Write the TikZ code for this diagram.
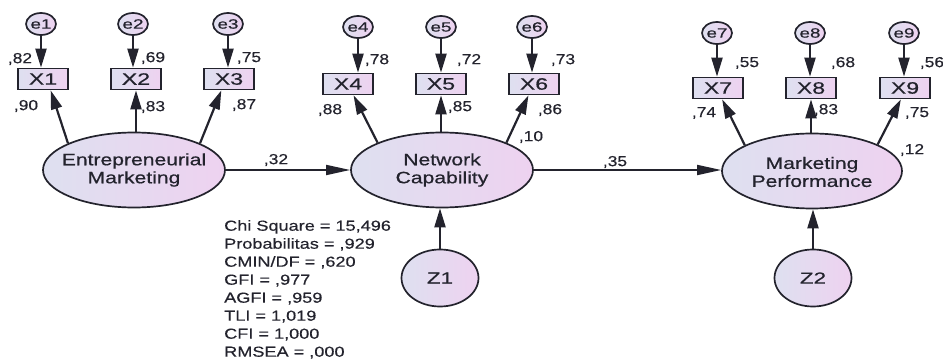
\documentclass[tikz,border=0pt]{standalone}
\usepackage{fontspec}
\setmainfont{Liberation Sans}
\newfontfamily\bigsf[FakeStretch=1.28,FakeBold=0.6]{Liberation Sans}
\newfontfamily\boxsf[FakeStretch=1.4,FakeBold=0.6]{Liberation Sans}
\newfontfamily\lblsf[FakeStretch=1.2,FakeBold=0.4]{Liberation Sans}
\newfontfamily\statsf[FakeStretch=1.25,FakeBold=0.4]{Liberation Sans}
\usetikzlibrary{shapes.geometric,arrows.meta}
\definecolor{shA}{RGB}{222,224,240}
\definecolor{shB}{RGB}{238,210,240}
\definecolor{ink}{RGB}{35,35,45}
\tikzset{
 sh/.style={left color=shA,right color=shB,draw=ink,line width=1.7pt},
 latent/.style={sh,ellipse,minimum width=182pt,minimum height=75pt,inner sep=0pt},
 errc/.style={sh,ellipse,minimum width=30pt,minimum height=22pt,inner sep=0pt,font=\boxsf\fontsize{13.5}{13.5}\selectfont,text=ink},
 dist/.style={sh,ellipse,minimum width=77pt,minimum height=57pt,inner sep=0pt,font=\boxsf\fontsize{16}{16}\selectfont,text=ink},
 obs/.style={sh,rectangle,minimum width=50pt,minimum height=21pt,inner sep=0pt,font=\boxsf\fontsize{16.5}{16.5}\selectfont,text=ink},
 ltext/.style={align=center,font=\bigsf\fontsize{16.5}{18}\selectfont,text=ink,inner sep=0pt},
 val/.style={font=\lblsf\fontsize{14.5}{14.5}\selectfont,text=ink,inner sep=0pt},
 stat/.style={align=left,font=\statsf\fontsize{14.5}{18}\selectfont,text=ink,inner sep=0pt},
 arr/.style={draw=ink,line width=2.2pt,-{Triangle[length=19pt,width=11pt]}},
 harr/.style={draw=ink,line width=1.8pt,-{Triangle[length=24pt,width=10pt]}},
}
\begin{document}
\begin{tikzpicture}[x=1pt,y=-1pt]
\useasboundingbox (0,0) rectangle (943,363);
% latent
\node[latent] (EM) at (134,170) {};
\node[ltext] (EMt) at (134,170) {Entrepreneurial\\Marketing};
\node[latent] (NC) at (442,170) {};
\node[ltext] (NCt) at (442,170) {Network\\Capability};
\node[latent,minimum width=180pt] (MP) at (812,171) {};
\node[ltext] (MPt) at (812,172) {Marketing\\Performance};
% observed
\node[obs] (X1) at (43,79) {X1};
\node[obs] (X2) at (136,79) {X2};
\node[obs] (X3) at (229,79) {X3};
\node[obs] (X4) at (348,84) {X4};
\node[obs] (X5) at (441,84) {X5};
\node[obs] (X6) at (534,84) {X6};
\node[obs] (X7) at (718,88) {X7};
\node[obs] (X8) at (811,88) {X8};
\node[obs] (X9) at (905,88) {X9};
% errors
\node[errc] (e1) at (41,24) {e1};
\node[errc] (e2) at (133,24) {e2};
\node[errc] (e3) at (228,24) {e3};
\node[errc] (e4) at (358,27) {e4};
\node[errc] (e5) at (441,27) {e5};
\node[errc] (e6) at (532,27) {e6};
\node[errc] (e7) at (717,33) {e7};
\node[errc] (e8) at (810,33) {e8};
\node[errc] (e9) at (904,33) {e9};
% disturbances
\node[dist] (Z1) at (440,278) {Z1};
\node[dist] (Z2) at (813,278) {Z2};
% error arrows
\foreach \e/\x in {e1/X1,e2/X2,e3/X3,e4/X4,e5/X5,e6/X6,e7/X7,e8/X8,e9/X9}
  \draw[arr] (\e.south) -- (\e.south |- \x.north);
% loadings
\draw[arr] (EM.158) -- (X1.-56);
\draw[arr] (EM.north -| X2) -- (X2.south);
\draw[arr] (EM.22) -- (X3.-124);
\draw[arr] (NC.157) -- (X4.-64);
\draw[arr] (NC.north -| X5) -- (X5.south);
\draw[arr] (NC.23) -- (X6.-116);
\draw[arr] (MP.159) -- (X7.-70);
\draw[arr] (MP.north -| X8) -- (X8.south);
\draw[arr] (MP.22) -- (X9.-110);
% structural
\draw[harr] (EM.east) -- (NC.west);
\draw[harr] (NC.east) -- (MP.west |- NC.east);
\draw[arr] (Z1.north) -- (Z1.north |- NC.south);
\draw[arr] (Z2.north) -- (Z2.north |- MP.south);
% values
\node[val] (v1) at (20,59) {,82};
\node[val] (v2) at (153,58) {,69};
\node[val] (v3) at (249,58) {,75};
\node[val] (v4) at (26,106) {,90};
\node[val] (v5) at (153,107) {,83};
\node[val] (v6) at (244,105) {,87};
\node[val] (v7) at (377,60) {,78};
\node[val] (v8) at (469,60) {,72};
\node[val] (v9) at (563,60) {,73};
\node[val] (v10) at (330,110) {,88};
\node[val] (v11) at (460,107) {,85};
\node[val] (v12) at (550,110) {,86};
\node[val] (v13) at (531,137) {,10};
\node[val] (v14) at (276,160) {,32};
\node[val] (v15) at (615,162) {,35};
\node[val] (v16) at (747,63) {,55};
\node[val] (v17) at (843,63) {,68};
\node[val] (v18) at (932,63) {,56};
\node[val] (v19) at (704,113) {,74};
\node[val] (v20) at (826,110) {,83};
\node[val] (v21) at (917,113) {,75};
\node[val] (v22) at (912,150) {,12};
% stats
\node[stat,anchor=north west] (st) at (224,220) {Chi Square = 15,496\\Probabilitas = ,929\\CMIN/DF = ,620\\GFI = ,977\\AGFI = ,959\\TLI = 1,019\\CFI = 1,000\\RMSEA = ,000};
\end{tikzpicture}
\end{document}
